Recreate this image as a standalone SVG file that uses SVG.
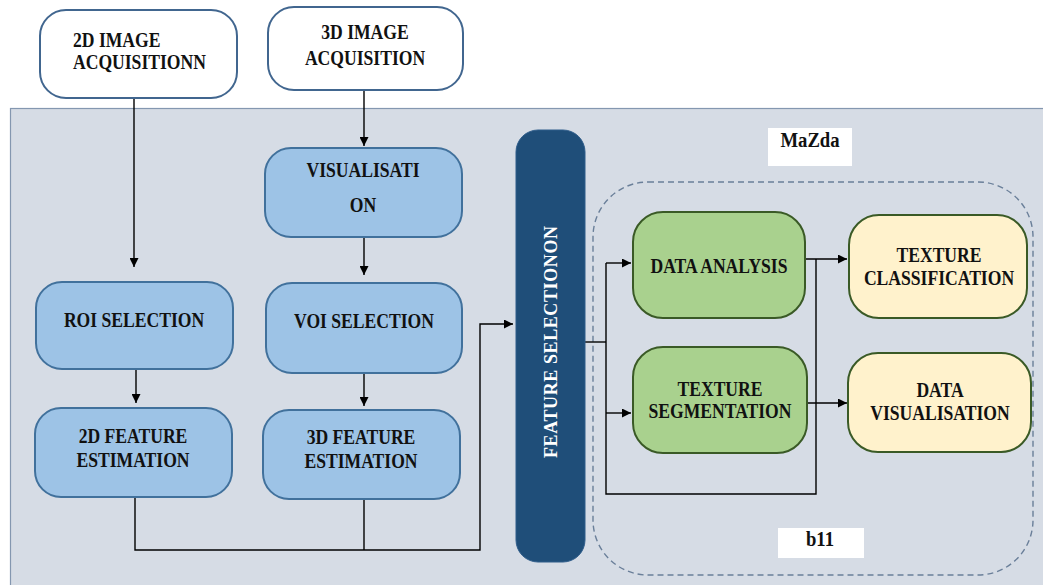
<svg xmlns="http://www.w3.org/2000/svg" width="1043" height="585" viewBox="0 0 1043 585" font-family="Liberation Serif, Times New Roman, serif">
  <defs>
    <marker id="arrow" viewBox="0 0 10 10" refX="10" refY="5" markerWidth="9" markerHeight="9" markerUnits="userSpaceOnUse" orient="auto">
      <path d="M0,0 L10,5 L0,10 z" fill="#000"/>
    </marker>
    <style>
      .lbl { font-weight: bold; font-size: 22px; fill: #111; text-anchor: middle; }
      .start { text-anchor: start; }
      .src { fill: #ffffff; stroke: #41668F; stroke-width: 2; }
      .blue { fill: #9DC3E6; stroke: #41719C; stroke-width: 2; }
      .green { fill: #A9D18E; stroke: #3A5A26; stroke-width: 2; }
      .cream { fill: #FFF2CC; stroke: #3A5A26; stroke-width: 2; }
      .tag { fill: #ffffff; stroke: none; }
      .wire { fill: none; stroke: #000; stroke-width: 1.4; }
    </style>
  </defs>

  <rect width="1043" height="585" fill="#ffffff"/>

  <!-- shaded processing panel -->
  <rect id="panel" x="10.5" y="108.5" width="1040" height="480" fill="#D6DCE5" stroke="#8497B0" stroke-width="1.2"/>

  <!-- MaZda / b11 dashed region -->
  <rect id="mazda-region" x="593" y="182" width="440" height="393" rx="55" ry="55" fill="none" stroke="#6A7F99" stroke-width="1.4" stroke-dasharray="6,4"/>

  <g id="connectors">
    <path class="wire" d="M134,98 V267" marker-end="url(#arrow)"/>
    <path class="wire" d="M364,90 V146" marker-end="url(#arrow)"/>
    <path class="wire" d="M364,237 V275" marker-end="url(#arrow)"/>
    <path class="wire" d="M136,369 V403" marker-end="url(#arrow)"/>
    <path class="wire" d="M364,373 V406" marker-end="url(#arrow)"/>
    <path class="wire" d="M135,497 V550 H480 V324 H513" marker-end="url(#arrow)"/>
    <path class="wire" d="M364,499 V550"/>
    <path class="wire" d="M585,342 H606"/>
    <path class="wire" d="M606,263 V494 H816 V259"/>
    <path class="wire" d="M606,263 H631" marker-end="url(#arrow)"/>
    <path class="wire" d="M606,413 H631" marker-end="url(#arrow)"/>
    <path class="wire" d="M805,259 H847" marker-end="url(#arrow)"/>
    <path class="wire" d="M807,403 H847" marker-end="url(#arrow)"/>
  </g>

  <g id="acq2d">
    <rect class="src" x="40" y="10" width="197" height="88" rx="26"/>
    <text class="lbl start" transform="translate(73,47) scale(0.8,1)"><tspan x="0">2D IMAGE</tspan><tspan x="0" dy="22">ACQUISITIONN</tspan></text>
  </g>

  <g id="acq3d">
    <rect class="src" x="268" y="7" width="195" height="83" rx="26"/>
    <text class="lbl" transform="translate(365,39) scale(0.8,1)"><tspan x="0">3D IMAGE</tspan><tspan x="0" dy="26">ACQUISITION</tspan></text>
  </g>

  <g id="visualisation">
    <rect class="blue" x="265" y="148" width="197" height="89" rx="26"/>
    <text class="lbl" transform="translate(363,177) scale(0.8,1)"><tspan x="0">VISUALISATI</tspan><tspan x="0" dy="35">ON</tspan></text>
  </g>

  <g id="roi">
    <rect class="blue" x="36" y="282" width="197" height="87" rx="26"/>
    <text class="lbl" transform="translate(134,327) scale(0.8,1)">ROI SELECTION</text>
  </g>

  <g id="voi">
    <rect class="blue" x="266" y="283" width="196" height="90" rx="26"/>
    <text class="lbl" transform="translate(364,328) scale(0.8,1)">VOI SELECTION</text>
  </g>

  <g id="feat2d">
    <rect class="blue" x="35" y="408" width="197" height="89" rx="26"/>
    <text class="lbl" transform="translate(133,443) scale(0.8,1)"><tspan x="0">2D FEATURE</tspan><tspan x="0" dy="24">ESTIMATION</tspan></text>
  </g>

  <g id="feat3d">
    <rect class="blue" x="263" y="410" width="197" height="89" rx="26"/>
    <text class="lbl" transform="translate(361,444) scale(0.8,1)"><tspan x="0">3D FEATURE</tspan><tspan x="0" dy="24">ESTIMATION</tspan></text>
  </g>

  <g id="feature-selection">
    <rect x="516" y="130" width="69" height="432" rx="22" fill="#1F4E79" stroke="#2E5C8A" stroke-width="1"/>
    <text transform="translate(557,342) rotate(-90)" text-anchor="middle" font-weight="bold" font-size="18" fill="#ffffff" textLength="232" lengthAdjust="spacing">FEATURE SELECTIONON</text>
  </g>

  <g id="mazda-tag">
    <rect class="tag" x="768" y="128" width="84" height="38"/>
    <text class="lbl" transform="translate(810,147) scale(0.85,1)">MaZda</text>
  </g>

  <g id="b11-tag">
    <rect class="tag" x="778" y="528" width="86" height="30"/>
    <text class="lbl" transform="translate(820,546) scale(0.85,1)">b11</text>
  </g>

  <g id="data-analysis">
    <rect class="green" x="633" y="212" width="172" height="106" rx="30"/>
    <text class="lbl" transform="translate(719,273) scale(0.8,1)">DATA ANALYSIS</text>
  </g>

  <g id="texture-segmentation">
    <rect class="green" x="633" y="347" width="174" height="106" rx="30"/>
    <text class="lbl" transform="translate(720,396) scale(0.8,1)"><tspan x="0">TEXTURE</tspan><tspan x="0" dy="22">SEGMENTATION</tspan></text>
  </g>

  <g id="texture-classification">
    <rect class="cream" x="849" y="215" width="178" height="103" rx="30"/>
    <text class="lbl" transform="translate(939,262) scale(0.8,1)"><tspan x="0">TEXTURE</tspan><tspan x="0" dy="23">CLASSIFICATION</tspan></text>
  </g>

  <g id="data-visualisation">
    <rect class="cream" x="848" y="353" width="183" height="99" rx="30"/>
    <text class="lbl" transform="translate(940,397) scale(0.8,1)"><tspan x="0">DATA</tspan><tspan x="0" dy="23">VISUALISATION</tspan></text>
  </g>
</svg>
